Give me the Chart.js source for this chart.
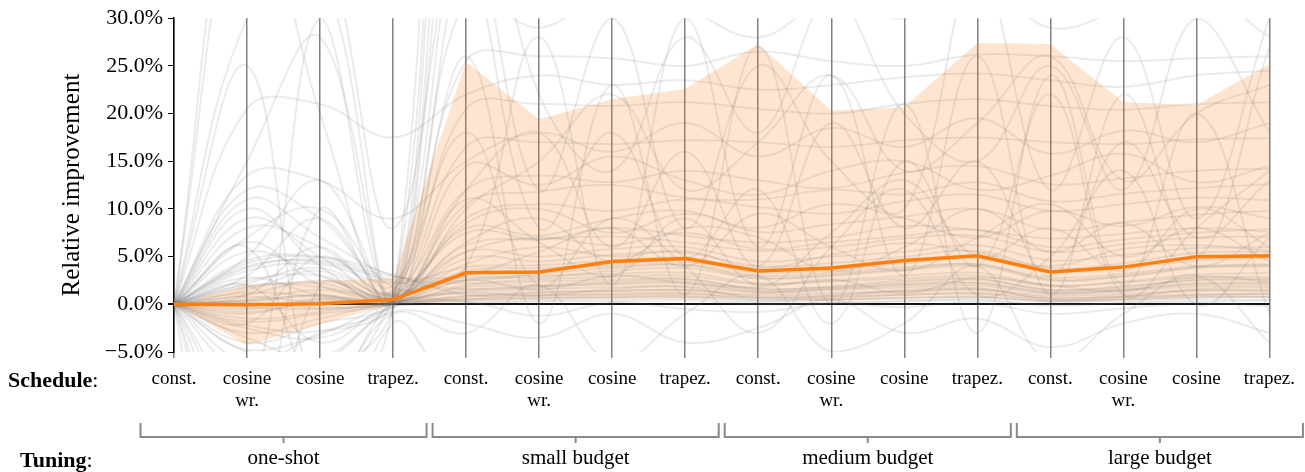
<!DOCTYPE html>
<html>
<head>
<meta charset="utf-8">
<script src="https://cdn.jsdelivr.net/npm/chart.js@4"></script>
<style>
  html, body { margin: 0; padding: 0; background: #fff; }
  #wrap { width: 1305px; height: 472px; }
</style>
</head>
<body>
<div id="wrap"><canvas id="myChart" width="1305" height="472"></canvas></div>
<script>
// categories
var schedules = ['const.', 'cosine wr.', 'cosine', 'trapez.'];
var tunings = ['one-shot', 'small budget', 'medium budget', 'large budget'];

// median and quantile band (relative improvement, %)
var median = [0, -0.05, 0.05, 0.5, 3.3, 3.4, 4.5, 4.8, 3.5, 3.8, 4.6, 5.1, 3.4, 3.9, 5.0, 5.1];
var bandHigh = [0, 2.0, 2.5, 2.7, 25.4, 19.4, 21.5, 22.6, 27.3, 20.3, 20.7, 27.4, 27.3, 21.2, 20.9, 25.2];
var bandLow = [0, -4.3, -2.1, 0.0, 0.3, 0.5, 0.6, 0.6, 0.6, 0.3, 0.6, 0.7, 0.3, 0.4, 0.7, 0.7];

var yTicks = [-5, 0, 5, 10, 15, 20, 25, 30];

// individual runs (grey lines)
var runs = [
  [0, 1.2, 0.8, 0.3, 0.6, 0.9, 1.0, 1.1, 0.7, 0.8, 1.0, 1.2, 0.6, 0.8, 1.0, 1.1],
  [0, 0.5, 1.5, 0.4, 0.9, 1.3, 1.4, 1.5, 1.0, 1.2, 1.4, 1.6, 0.9, 1.1, 1.5, 1.4],
  [0, -1.5, -0.8, 0.2, 0.4, 0.6, 0.7, 0.8, 0.3, 0.5, 0.6, 0.7, 0.3, 0.4, 0.7, 0.8],
  [0, 2.0, 1.8, 0.6, 1.3, 1.6, 1.8, 1.9, 1.2, 1.5, 1.8, 2.0, 1.1, 1.4, 1.9, 2.0],
  [0, -3.0, -1.5, 0.1, 0.2, 0.4, 0.5, 0.6, 0.1, 0.2, 0.4, 0.5, 0.0, 0.2, 0.5, 0.5],
  [0, 3.8, 4.6, 2.6, 2.2, 2.4, 2.6, 2.7, 1.6, 1.9, 2.5, 2.7, 1.5, 1.8, 2.6, 2.7],
  [0, 4.3, 4.9, 2.9, 2.8, 3.0, 3.2, 3.3, 2.2, 2.5, 3.0, 3.3, 2.0, 2.4, 3.1, 3.3],
  [0, 4.0, 4.4, 2.4, 1.6, 1.9, 2.1, 2.2, 1.3, 1.6, 2.0, 2.2, 1.2, 1.5, 2.1, 2.2],
  [0, 1.0, 2.5, 0.8, 3.5, 3.8, 4.0, 4.2, 3.0, 3.3, 3.9, 4.2, 2.8, 3.2, 4.0, 4.2],
  [0, -2.5, -3.5, -0.3, 0.8, 1.0, 1.1, 1.2, 0.5, 0.7, 1.0, 1.1, 0.4, 0.6, 1.0, 1.1],
  [0, 0.8, 0.2, 0.5, 5.5, 5.0, 5.8, 6.0, 4.5, 5.0, 5.5, 6.2, 4.6, 5.2, 5.9, 6.0],
  [0, -0.5, 0.6, 0.2, 4.8, 4.5, 5.2, 5.4, 4.0, 4.3, 5.0, 5.6, 3.8, 4.3, 5.4, 5.5],
  [0, 2.8, 1.0, 0.9, 7.5, 6.8, 8.0, 7.2, 6.5, 7.0, 8.2, 7.8, 6.9, 7.4, 8.0, 7.6],
  [0, -4.0, -2.0, 0.0, 9.0, 10.5, 9.8, 11.0, 10.2, 9.5, 10.8, 11.5, 9.8, 10.5, 11.2, 10.9],
  [0, 5.5, 3.0, 1.2, 12.0, 13.5, 12.8, 14.0, 13.0, 12.2, 13.8, 14.5, 12.6, 13.2, 14.0, 14.2],
  [0, -6.0, -3.0, 0.3, 16.5, 17.0, 16.8, 17.2, 17.0, 16.5, 17.2, 17.5, 17.0, 16.8, 17.3, 17.4],
  [0, 8.0, 6.0, 1.5, 20.5, 21.0, 20.8, 21.2, 20.5, 20.0, 21.0, 21.5, 20.8, 20.4, 21.0, 21.2],
  [0, 12.0, 9.0, 2.0, 25.5, 26.0, 25.8, 25.0, 26.5, 25.5, 25.0, 26.2, 26.0, 25.5, 25.8, 26.0],
  [0, 20.5, 21.0, 17.5, 22.0, 24.0, 23.0, 23.5, 22.5, 23.0, 23.8, 24.2, 23.5, 22.8, 24.0, 24.5],
  [0, 45, 20, 0.5, 60, 40, 35, 50, 45, 38, 42, 48, 44, 40, 46, 50],
  [0, -12, -8, -0.5, 40, 12, 30, 8, 25, 15, 10, 35, 12, 28, 9, 30],
  [0, 30, 35, 1, 50, 22, 14, 28, 18, 32, 20, 15, 25, 12, 30, 18],
  [0, -15, 10, 0.2, 35, 8, 18, 5, 12, -2, 15, 4, 22, 1, 8, 14],
  [0, 6, -9, 0.4, 18, 2, 9, 4, -3, 6, 12, 1, 5, 14, 0, 7],
  [0, -8, -10, -1, -3, 2, -6, -1, 3, -5, -2, 4, -6, -1, 3, -4],
  [0, 15, 28, 0.8, 70, 55, 60, 48, 52, 58, 45, 62, 50, 55, 60, 52],
  [0, 3, 9, 0.6, 90, 80, 85, 78, 82, 75, 88, 80, 84, 79, 86, 82],
  [0, -20, -15, 0, 100, 95, 90, 92, 88, 94, 90, 96, 91, 93, 89, 95],
  [0, 10, 4, 0.3, 11, 6.5, 3, 9, 2, 7.5, 13, 5, 8, 3.5, 10, 6],
  [0, -2, 5, 1.0, 6.5, 9, 4.5, 8, 7, 3.5, 6, 10, 5.5, 8.5, 4, 7.5],
  [0, 7, 10, 1.8, 3, 5.5, 8, 4, 9.5, 6, 3.5, 7, 10.5, 5, 8, 4.5],
  [0, -5, -6, -0.8, -2, -3.5, -1, -4, -2.5, 0.5, -3, -1.5, -4.5, -2, -1, -3],
  [0, 2, -4, 0.1, 0.3, -1.2, 0.2, -0.5, -0.8, 0.1, -0.3, 0.2, -1.0, -0.4, 0.1, -0.2],
  [0, -3.5, -5.5, -0.2, 2.5, 1.5, 3.0, 2.2, 1.8, 2.6, 1.2, 2.8, 2.0, 1.4, 2.9, 2.4],
  [0, 1.5, 3.5, 0.7, 14.5, 12.5, 15.5, 13, 11.5, 14, 15, 12, 13.5, 15.8, 12.8, 14.5],
  [0, 0.3, 1.0, 0.4, 8.5, 10, 7.5, 9.5, 8, 10.5, 9, 7, 9.8, 8.2, 10.2, 9],
  [0, 25, -10, 0.5, 4, 28, 2, 30, 6, 24, 3, 26, 1, 22, 5, 27],
  [0, -10, 30, 0, 26, -2, 23, 1, 27, 0, 21, -3, 24, 2, 20, -1],
  [0, 5, 13, 1.4, 32, 29, 33, 31, 28, 32, 30, 34, 29, 31, 33, 28],
  [0, 9, 5, 0.9, 5.5, 7, 6.2, 7.5, 5.8, 6.5, 7.2, 7.8, 6, 6.8, 7.5, 7.9],
  [0, -1, 0.5, 0.2, 3.2, 3.5, 4.2, 4.5, 3.3, 3.6, 4.3, 4.8, 3.4, 3.8, 4.6, 4.9],
  [0, 2.5, 3, 0.5, 2.6, 2.8, 3.5, 3.8, 2.7, 3.0, 3.6, 4.0, 2.5, 2.9, 3.8, 4.0],
  [0, -0.3, -0.5, 0.1, 1.8, 2.0, 2.4, 2.6, 1.6, 1.8, 2.3, 2.6, 1.5, 1.9, 2.5, 2.6],
  [0, 0.2, -0.4, -0.1, 0.1, 0.3, 0.3, 0.4, 0.0, 0.1, 0.3, 0.4, -0.1, 0.1, 0.3, 0.4],
  [0, -40, -25, -2, -10, -8, -15, -6, -12, -20, -9, -7, -14, -11, -6, -9],
  [0, 50, 40, 8, 45, 60, 30, 55, 35, 65, 40, 50, 38, 58, 42, 48],
  [0, -25, 2, 0.2, 12, 18, 6, 16, 4, 19, 8, 15, 3, 17, 7, 13],
  [0, 1, 6, 0.3, 10, 15, 22, 12, 17, 24, 14, 19, 26, 13, 20, 23],
  [0, 4.6, 5.0, 3.1, 1.0, 1.2, 1.4, 1.5, 0.8, 1.0, 1.3, 1.5, 0.7, 0.9, 1.4, 1.5],
  [0, 3.5, 4.2, 2.2, 3.9, 4.1, 4.6, 4.9, 3.6, 3.9, 4.5, 5.0, 3.5, 4.0, 4.8, 5.0],
  [0, 0.4, 0.9, 0.3, 1.5, 1.8, 2.2, 2.4, 1.4, 1.7, 2.1, 2.3, 1.3, 1.6, 2.2, 2.3],
  [0, -1.8, -1.0, 0.0, 2.0, 2.6, 2.9, 3.0, 2.1, 2.4, 2.7, 3.0, 1.9, 2.3, 2.8, 2.9],
  [0, 1.8, 2.2, 0.6, 6.2, 6.8, 7.1, 6.5, 5.6, 6.0, 6.9, 7.2, 5.5, 6.3, 7.0, 7.1],
  [0, -0.8, 0.3, 0.1, 0.5, 0.7, 0.8, 0.9, 0.4, 0.5, 0.7, 0.8, 0.3, 0.5, 0.8, 0.8],
  [0, 2.2, 3.8, 1.1, 8.0, 7.2, 9.0, 9.8, 7.6, 8.4, 9.2, 10.0, 7.8, 8.6, 9.4, 9.8],
  [0, -2.2, -2.8, -0.4, 10.5, 11.8, 12.5, 11.2, 11.0, 12.0, 11.5, 12.8, 10.8, 11.6, 12.2, 12.6],
  [0, 6.5, 2.0, 0.7, 4.2, 6.0, 5.0, 5.6, 3.8, 5.2, 6.4, 5.4, 4.0, 5.8, 6.2, 5.6],
  [0, 13.5, 13.0, 9.0, 15.0, 18.0, 16.0, 19.0, 15.5, 18.5, 16.5, 19.5, 15.8, 18.2, 17.0, 19.0],
  [0, -4.8, -3.2, 0.2, 1.2, 0.9, 1.6, 1.8, 0.6, 0.9, 1.5, 1.7, 0.5, 0.8, 1.6, 1.8],
  [0, 11, 7, 3, 2.5, 3.2, 3.8, 4.1, 2.8, 3.1, 3.7, 4.2, 2.6, 3.0, 3.9, 4.1]
];

var labels = [];
tunings.forEach(function () {
  schedules.forEach(function (s) { labels.push(s); });
});

var serif = "'Liberation Serif', 'Times New Roman', serif";

var datasets = [{
  label: 'median',
  data: median,
  borderColor: '#ff7f0e',
  borderWidth: 3.5,
  pointRadius: 0,
  tension: 0,
  fill: false
}];

runs.forEach(function (r, i) {
  datasets.push({
    label: 'run ' + (i + 1),
    data: r,
    borderColor: 'rgba(115,115,115,0.14)',
    borderWidth: 2,
    pointRadius: 0,
    tension: 0.4,
    fill: false
  });
});

datasets.push({
  label: 'upper',
  data: bandHigh,
  borderWidth: 0,
  borderColor: 'transparent',
  backgroundColor: 'rgba(255,127,14,0.2)',
  pointRadius: 0,
  tension: 0,
  fill: '+1'
});
datasets.push({
  label: 'lower',
  data: bandLow,
  borderWidth: 0,
  borderColor: 'transparent',
  pointRadius: 0,
  tension: 0,
  fill: false
});

var groupPlugin = {
  id: 'groups',
  afterDraw: function (chart) {
    var ctx = chart.ctx;
    var x = chart.scales.x;
    ctx.save();
    ctx.fillStyle = '#000';
    ctx.textBaseline = 'middle';
    ctx.textAlign = 'left';
    ctx.font = 'bold 22px ' + serif;
    ctx.fillText('Schedule', 8, 381);
    var w = ctx.measureText('Schedule').width;
    ctx.font = '22px ' + serif;
    ctx.fillText(':', 8 + w, 381);

    ctx.font = 'bold 22px ' + serif;
    ctx.fillText('Tuning', 20, 461);
    w = ctx.measureText('Tuning').width;
    ctx.font = '22px ' + serif;
    ctx.fillText(':', 20 + w, 461);

    ctx.strokeStyle = '#8a8a8a';
    ctx.lineWidth = 2;
    tunings.forEach(function (t, g) {
      var x0 = x.getPixelForValue(g * 4 - 0.5) + 3;
      var x1 = Math.min(x.getPixelForValue(g * 4 + 3.5) - 3, 1303);
      var xc = x.getPixelForValue(g * 4 + 1.5);
      ctx.beginPath();
      ctx.moveTo(x0, 423);
      ctx.lineTo(x0, 437);
      ctx.lineTo(x1, 437);
      ctx.lineTo(x1, 423);
      ctx.moveTo(xc, 437);
      ctx.lineTo(xc, 443);
      ctx.stroke();
      ctx.textAlign = 'center';
      ctx.font = '21px ' + serif;
      ctx.fillText(t, xc, 458);
    });
    ctx.restore();
  }
};

var ctx = document.getElementById('myChart').getContext('2d');
var myChart = new Chart(ctx, {
  type: 'line',
  data: { labels: labels, datasets: datasets },
  plugins: [groupPlugin],
  options: {
    responsive: false,
    animation: false,
    layout: { padding: { left: 49, right: 31, top: 16, bottom: 0 } },
    plugins: { legend: { display: false }, tooltip: { enabled: false } },
    scales: {
      x: {
        type: 'category',
        offset: false,
        afterFit: function (s) { s.height = 120; },
        grid: { color: '#808080', lineWidth: 1.5, tickLength: 6, tickColor: '#808080' },
        border: { display: false },
        ticks: {
          autoSkip: false,
          maxRotation: 0,
          padding: 10,
          color: '#000',
          font: { family: serif, size: 19, lineHeight: 1.15 },
          callback: function (v, i) {
            var l = labels[i];
            return l === 'cosine wr.' ? ['cosine', 'wr.'] : l;
          }
        }
      },
      y: {
        min: -5,
        max: 30,
        afterFit: function (s) { s.width = 125; },
        afterBuildTicks: function (s) { s.ticks = yTicks.map(function (v) { return { value: v }; }); },
        grid: {
          color: function (c) { return c.tick && c.tick.value === 0 ? '#111' : 'transparent'; },
          lineWidth: function (c) { return c.tick && c.tick.value === 0 ? 2 : 1; },
          tickColor: '#000',
          tickLength: 6
        },
        border: { color: '#000', width: 1.5 },
        title: {
          display: true,
          text: 'Relative improvement',
          color: '#000',
          font: { family: serif, size: 25 },
          padding: { top: 8, bottom: 0 }
        },
        ticks: {
          padding: 5,
          color: '#000',
          font: { family: serif, size: 22 },
          callback: function (v) {
            return (v < 0 ? '\u2212' : '') + Math.abs(v).toFixed(1) + '%';
          }
        }
      }
    }
  }
});
</script>
</body>
</html>
